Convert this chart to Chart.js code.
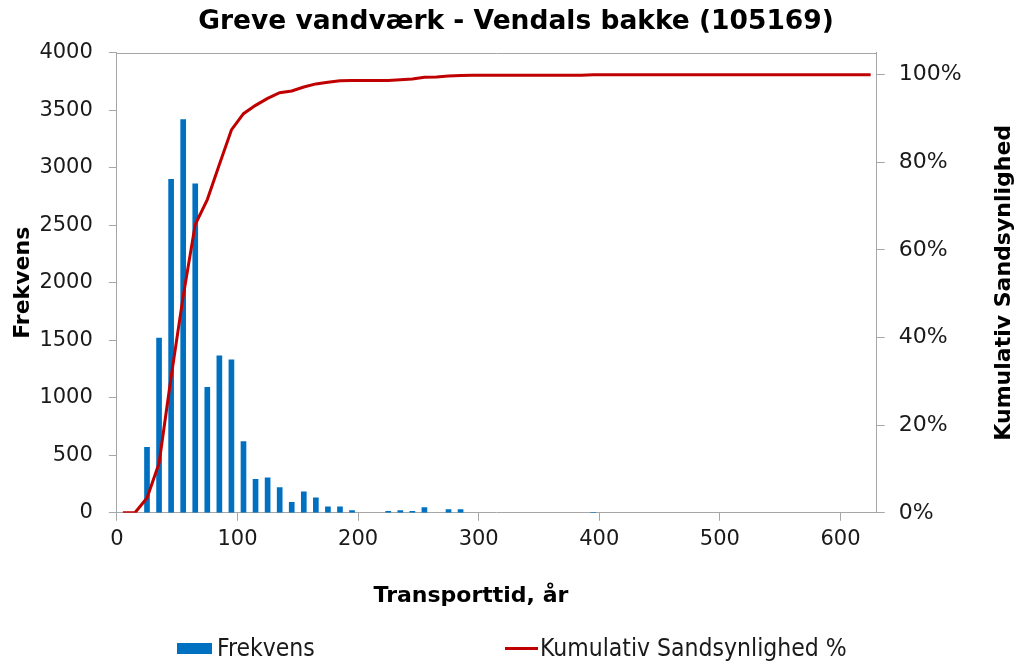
<!DOCTYPE html>
<html>
<head>
<meta charset="utf-8">
<script src="https://cdn.jsdelivr.net/npm/chart.js@4.4.0/dist/chart.umd.min.js"></script>
<style>
  body { margin: 0; background: #fff; }
  #wrap { position: relative; width: 1032px; height: 666px; }
  .leg { position: absolute; top: 636px; height: 24px; display: flex; align-items: center;
         font-family: 'DejaVu Sans Condensed', 'DejaVu Sans', sans-serif; font-size: 24.5px; line-height: 24px; color: #1a1a1a; }
  .sw { display: inline-block; }
</style>
</head>
<body>
<div id="wrap">
  <canvas id="chart" width="1032" height="666"></canvas>
  <div class="leg" style="left:177px"><span class="sw" style="width:35px;height:11px;background:#0070c0;margin-right:5px"></span>Frekvens</div>
  <div class="leg" style="left:505px"><span class="sw" style="width:33px;height:3px;background:#c00000;margin-right:2px"></span>Kumulativ Sandsynlighed %</div>
</div>
<script>
window.onload = function () {

  // histogram bins (transport time, years) and counts
  var binCenters = [25, 35, 45, 55, 65, 75, 85, 95, 105, 115, 125, 135, 145, 155, 165, 175, 185, 195,
                    205, 215, 225, 235, 245, 255, 265, 275, 285, 295, 305, 315, 325, 335, 345, 355,
                    365, 375, 385, 395];
  var frequencies = [570, 1520, 2900, 3420, 2860, 1090, 1365, 1330, 620, 290, 305, 220, 90, 183, 130, 52, 52, 20,
                     0, 0, 12, 20, 12, 46, 0, 29, 29, 0, 0, 0, 0, 0, 0, 0,
                     0, 0, 0, 5];

  // cumulative probability curve
  var cumX = [5, 15, 25, 35, 45, 55, 65, 75, 85, 95, 105, 115, 125, 135, 145, 155, 165, 175, 185, 195,
              205, 215, 225, 235, 245, 255, 265, 275, 285, 295, 305, 315, 325, 335, 345, 355, 365, 375, 385,
              395, 405, 415, 425, 435, 445, 455, 465, 475, 485, 495, 505, 515, 525, 535, 545, 555, 565, 575,
              585, 595, 605, 615, 625];
  var cumProb = [0, 0, 0.034, 0.113, 0.31, 0.494, 0.658, 0.715, 0.795, 0.874, 0.911, 0.93, 0.946, 0.959, 0.963, 0.972, 0.979, 0.983, 0.986, 0.987,
                 0.987, 0.987, 0.987, 0.9885, 0.99, 0.994, 0.995, 0.997, 0.998, 0.9985, 0.9985, 0.9985, 0.9985, 0.9985, 0.9985, 0.9985, 0.9985, 0.9985, 0.9985,
                 1, 1, 1, 1, 1, 1, 1, 1, 1, 1, 1, 1, 1, 1, 1, 1, 1, 1, 1,
                 1, 1, 1, 1, 1];

  var chartTitle = 'Greve vandværk - Vendals bakke (105169)';
  var xTitle = 'Transporttid, år';
  var yTitle = 'Frekvens';
  var y2Title = 'Kumulativ Sandsynlighed';

  var axisGray = '#a6a6a6';
  var textColor = '#1a1a1a';
  var fontFamily = "'DejaVu Sans', Verdana, sans-serif";

  var barPoints = [];
  for (var i = 0; i < binCenters.length; i++) {
    if (frequencies[i] > 0) barPoints.push({ x: binCenters[i], y: frequencies[i] });
  }
  var linePoints = cumX.map(function (x, i) { return { x: x, y: cumProb[i] }; });

  // top frame line + titles that chart.js can't place the same way
  var extraDraw = {
    id: 'extraDraw',
    afterDraw: function (chart) {
      var ctx = chart.ctx, a = chart.chartArea;
      ctx.save();
      ctx.strokeStyle = axisGray;
      ctx.lineWidth = 1;
      ctx.beginPath();
      ctx.moveTo(a.left, Math.round(a.top) + 0.5);
      ctx.lineTo(a.right, Math.round(a.top) + 0.5);
      ctx.stroke();

      ctx.fillStyle = '#000';
      ctx.textAlign = 'center';
      ctx.textBaseline = 'middle';

      ctx.font = 'bold 22px ' + fontFamily;
      ctx.fillText(xTitle, a.left + a.width * 0.466, 596);

      var s = chart.scales.y2;
      ctx.font = 'bold 22px ' + fontFamily;
      ctx.translate(s.right - 15 - 13.2, (a.top + a.bottom) / 2);
      ctx.rotate(-Math.PI / 2);
      ctx.fillText(y2Title, 0, 0);
      ctx.restore();
    }
  };

  new Chart(document.getElementById('chart'), {
    type: 'bar',
    data: {
      datasets: [
        {
          type: 'line',
          label: 'Kumulativ Sandsynlighed %',
          data: linePoints,
          yAxisID: 'y2',
          borderColor: '#c00000',
          borderWidth: 3,
          pointRadius: 0,
          tension: 0,
          fill: false,
          order: 1
        },
        {
          type: 'bar',
          label: 'Frekvens',
          data: barPoints,
          yAxisID: 'y',
          backgroundColor: '#0070c0',
          borderWidth: 0,
          barThickness: 5,
          order: 2
        }
      ]
    },
    options: {
      responsive: false,
      animation: false,
      devicePixelRatio: 1,
      layout: { padding: { left: 0, right: 0, top: 0, bottom: 48 } },
      plugins: {
        legend: { display: false },
        tooltip: { enabled: false },
        title: {
          display: true,
          text: chartTitle,
          color: '#000',
          font: { family: fontFamily, size: 26.5, weight: 'bold' },
          padding: { top: 6, bottom: 15 }
        }
      },
      scales: {
        x: {
          type: 'linear',
          position: 'bottom',
          min: 0,
          max: 630,
          offset: false,
          ticks: { stepSize: 100, includeBounds: false, padding: 6, color: textColor, font: { family: fontFamily, size: 21 } },
          grid: { drawOnChartArea: false, offset: false, tickLength: 8, color: axisGray },
          border: { color: axisGray },
          title: { display: true, text: xTitle, color: 'rgba(0,0,0,0)', font: { family: fontFamily, size: 20, weight: 'bold' }, padding: { top: 32, bottom: 4 } }
        },
        y: {
          position: 'left',
          min: 0,
          max: 4000,
          ticks: {
            stepSize: 500, padding: 16, color: textColor, font: { family: fontFamily, size: 21 },
            callback: function (v) { return String(v); }
          },
          grid: { drawOnChartArea: false, tickLength: 8, color: axisGray },
          border: { color: axisGray },
          title: { display: true, text: yTitle, color: '#000', font: { family: fontFamily, size: 22, weight: 'bold' }, padding: { top: 10, bottom: -13 } }
        },
        y2: {
          position: 'right',
          min: 0,
          max: 1.05,
          ticks: {
            stepSize: 0.2, includeBounds: false, padding: 14, color: textColor, font: { family: fontFamily, size: 22 },
            callback: function (v) { return Math.round(v * 100) + '%'; }
          },
          grid: { drawOnChartArea: false, tickLength: 8, color: axisGray },
          border: { color: axisGray },
          title: { display: true, text: y2Title, color: 'rgba(0,0,0,0)', font: { family: fontFamily, size: 22, weight: 'bold' }, padding: { top: 15, bottom: 15 } }
        }
      }
    },
    plugins: [extraDraw]
  });
};
</script>
</body>
</html>
